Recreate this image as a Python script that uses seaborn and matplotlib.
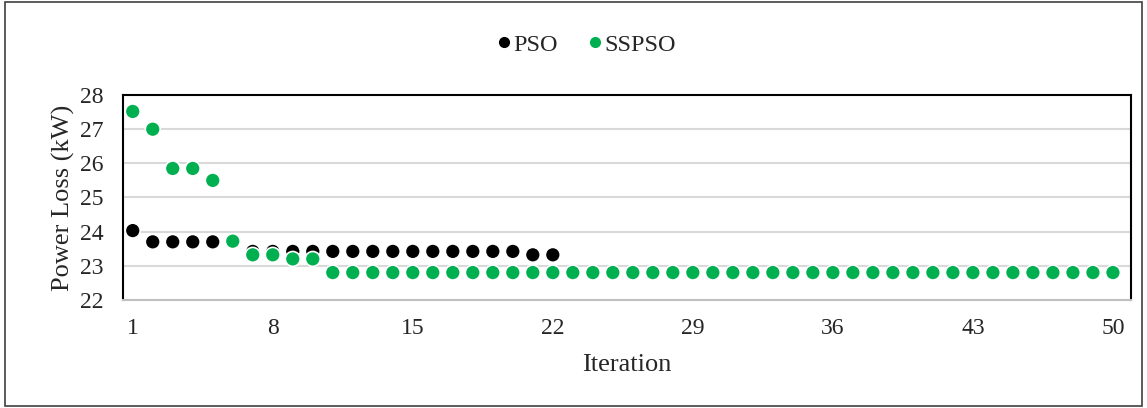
import matplotlib
matplotlib.use("Agg")
import matplotlib.pyplot as plt
from matplotlib.lines import Line2D
import seaborn as sns
import pandas as pd

iterations = list(range(1, 51))
pso = [24.03, 23.7, 23.7, 23.7, 23.7, 23.7] + [23.42] * 14 + [23.32, 23.32]
sspso = [27.52, 27.0, 25.85, 25.85, 25.5, 23.72, 23.32, 23.32, 23.2, 23.2] + [22.8] * 40
xticks = [1, 8, 15, 22, 29, 36, 43, 50]
yticks = [22, 23, 24, 25, 26, 27, 28]

df = pd.concat([
    pd.DataFrame({"Iteration": iterations[:len(pso)], "Loss": pso, "Method": "PSO"}),
    pd.DataFrame({"Iteration": iterations, "Loss": sspso, "Method": "SSPSO"}),
])

sns.set_style("white")
plt.rcParams["font.family"] = ["Liberation Serif", "DejaVu Serif"]

fig = plt.figure(figsize=(11.47, 4.08), dpi=100)
ax = fig.add_axes([0.107, 0.265, 0.879, 0.502])
for y in yticks[1:-1]:
    ax.axhline(y, color="#d9d9d9", lw=1.5, zorder=0)
sns.scatterplot(data=df, x="Iteration", y="Loss", hue="Method",
                palette={"PSO": "black", "SSPSO": "#00B050"},
                s=115, edgecolor="white", linewidth=1.2, ax=ax, legend=False, zorder=3)
ax.set_xlim(0.5, 50.9)
ax.set_ylim(22, 28)
ax.set_xticks(xticks)
ax.set_yticks(yticks)
ax.tick_params(labelsize=17, length=0)
ax.tick_params(axis="y", pad=14)
ax.tick_params(axis="x", pad=13)
ax.set_xlabel("Iteration", fontsize=19, labelpad=11)
ax.set_ylabel("Power Loss (kW)", fontsize=19, labelpad=3)
for s in ["top", "left", "right"]:
    ax.spines[s].set_color("black")
    ax.spines[s].set_linewidth(1.5)
ax.spines["bottom"].set_color("#bfbfbf")
ax.spines["bottom"].set_linewidth(1.5)

handles = [Line2D([], [], marker="o", ls="", color="black", markersize=7),
           Line2D([], [], marker="o", ls="", color="#00B050", markersize=7)]
fig.legend(handles, ["PSO", "SSPSO"], loc="center", bbox_to_anchor=(0.508, 0.89), ncol=2,
           frameon=False, fontsize=17.5, handletextpad=-0.2, columnspacing=0.9,
           handlelength=1.2)

fig.patches.append(plt.Rectangle((0.004, 0.005), 0.992, 0.99, transform=fig.transFigure,
                                 fill=False, edgecolor="#404040", lw=1.2))
fig.savefig("out.png", dpi=100)
